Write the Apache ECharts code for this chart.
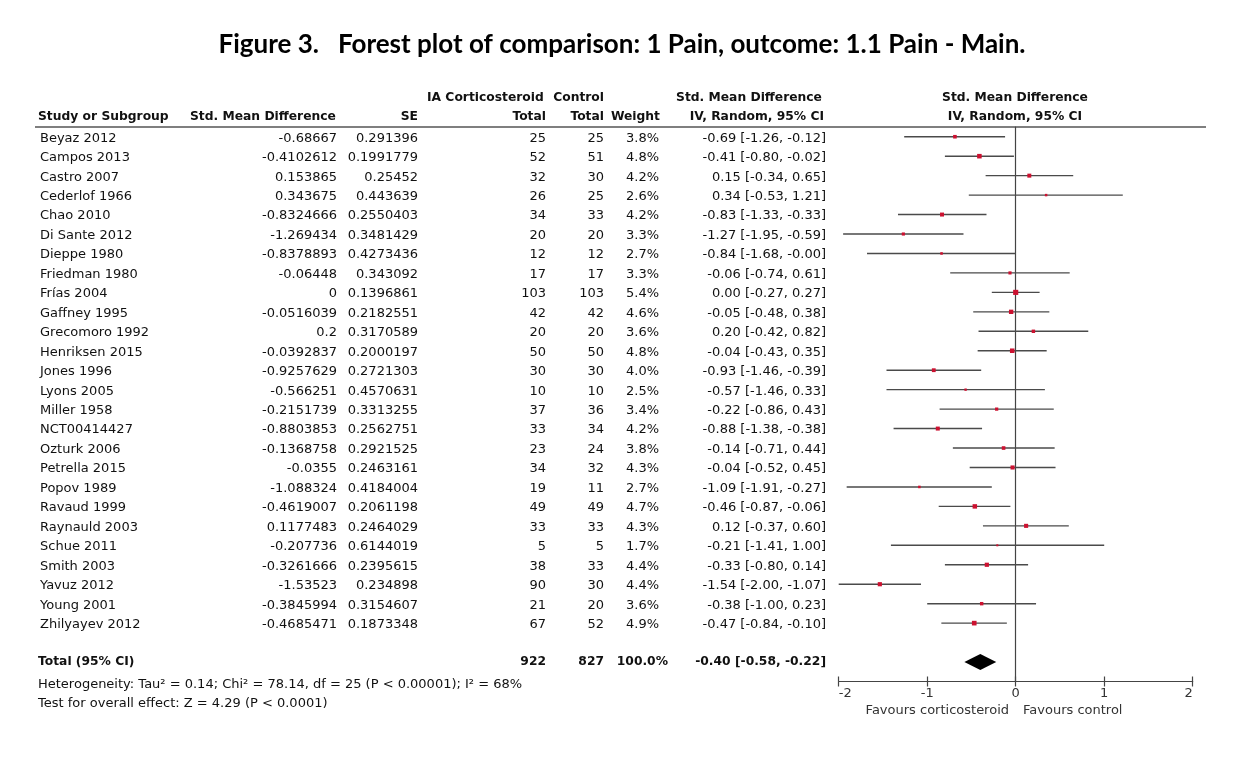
<!DOCTYPE html>
<html><head><meta charset="utf-8">
<script src="https://cdn.jsdelivr.net/npm/echarts@6/dist/echarts.min.js"></script>
<style>html,body{margin:0;padding:0;background:#fff;}#chart{width:1238px;height:758px;}</style>
</head><body><div id="chart"></div>
<script>
// ---------------- data ----------------
const studies = ["Beyaz 2012","Campos 2013","Castro 2007","Cederlof 1966","Chao 2010","Di Sante 2012","Dieppe 1980","Friedman 1980","Frías 2004","Gaffney 1995","Grecomoro 1992","Henriksen 2015","Jones 1996","Lyons 2005","Miller 1958","NCT00414427","Ozturk 2006","Petrella 2015","Popov 1989","Ravaud 1999","Raynauld 2003","Schue 2011","Smith 2003","Yavuz 2012","Young 2001","Zhilyayev 2012"];
const smd = [-0.68667,-0.4102612,0.153865,0.343675,-0.8324666,-1.269434,-0.8378893,-0.06448,0,-0.0516039,0.2,-0.0392837,-0.9257629,-0.566251,-0.2151739,-0.8803853,-0.1368758,-0.0355,-1.088324,-0.4619007,0.1177483,-0.207736,-0.3261666,-1.53523,-0.3845994,-0.4685471];
const se = [0.291396,0.1991779,0.25452,0.443639,0.2550403,0.3481429,0.4273436,0.343092,0.1396861,0.2182551,0.3170589,0.2000197,0.2721303,0.4570631,0.3313255,0.2562751,0.2921525,0.2463161,0.4184004,0.2061198,0.2464029,0.6144019,0.2395615,0.234898,0.3154607,0.1873348];
const nTreat = [25,52,32,26,34,20,12,17,103,42,20,50,30,10,37,33,23,34,19,49,33,5,38,90,21,67];
const nControl = [25,51,30,25,33,20,12,17,103,42,20,50,30,10,36,34,24,32,11,49,33,5,33,30,20,52];
const weights = [3.8,4.8,4.2,2.6,4.2,3.3,2.7,3.3,5.4,4.6,3.6,4.8,4.0,2.5,3.4,4.2,3.8,4.3,2.7,4.7,4.3,1.7,4.4,4.4,3.6,4.9];
const ciLow = [-1.26,-0.80,-0.34,-0.53,-1.33,-1.95,-1.68,-0.74,-0.27,-0.48,-0.42,-0.43,-1.46,-1.46,-0.86,-1.38,-0.71,-0.52,-1.91,-0.87,-0.37,-1.41,-0.80,-2.00,-1.00,-0.84];
const ciHigh = [-0.12,-0.02,0.65,1.21,-0.33,-0.59,-0.0003,0.61,0.27,0.38,0.82,0.35,-0.39,0.33,0.43,-0.38,0.44,0.45,-0.27,-0.06,0.60,1.00,0.14,-1.07,0.23,-0.10];
const totalTreat = 922;
const totalControl = 827;
const totalWeight = 100.0;
const pooledEst = -0.40;
const pooledLow = -0.58;
const pooledHigh = -0.22;
const xTicks = [-2, -1, 0, 1, 2];
const heterogeneityText = "Heterogeneity: Tau² = 0.14; Chi² = 78.14, df = 25 (P < 0.00001); I² = 68%";
const overallText = "Test for overall effect: Z = 4.29 (P < 0.0001)";
const titleText = "Figure 3.   Forest plot of comparison: 1 Pain, outcome: 1.1 Pain - Main.";

// ---------------- layout ----------------
const FONT = '"DejaVu Sans", Verdana, sans-serif';
const F = '13px ' + FONT;
const FB = 'bold 12.3px ' + FONT;
const TXT = '#111';
const COL = { name: 40, smd: 337, se: 418, n1: 546, n2: 604, w: 659, ci: 826 };
const TOTAL_ROW = 27;
const TEXT_DY = 1.5;
const fmt2 = v => v.toFixed(2);
const ciText = (e, l, h) => fmt2(e) + ' [' + fmt2(l) + ', ' + fmt2(h) + ']';

const chart = echarts.init(document.getElementById('chart'), null, { renderer: 'canvas' });

function txt(x, y, text, align, font, color) {
  return { type: 'text', style: { x: x, y: y, text: text, textAlign: align, textVerticalAlign: 'middle', font: font || F, fill: color || TXT } };
}

const rowData = studies.map((s, i) => [0, i]);

const option = {
  animation: false,
  backgroundColor: '#fff',
  grid: { left: 838.7, width: 354, top: 127, height: 554.5 },
  xAxis: [{
    type: 'value', min: -2, max: 2, interval: 1, position: 'bottom',
    axisLine: { show: true, onZero: false, lineStyle: { color: '#444', width: 1.2 } },
    axisTick: { show: true, inside: true, length: 5, lineStyle: { color: '#444', width: 1.2 } },
    axisLabel: { show: true, margin: 6, color: '#333', fontSize: 13, fontFamily: FONT, alignMinLabel: 'left', alignMaxLabel: 'right', formatter: v => String(v) },
    splitLine: { show: false }
  }, {
    type: 'value', min: -2, max: 2, interval: 1, position: 'bottom', offset: 0,
    axisLine: { show: false, onZero: false },
    axisTick: { show: true, inside: false, length: 5, lineStyle: { color: '#444', width: 1.2 } },
    axisLabel: { show: false }, splitLine: { show: false }
  }],
  yAxis: {
    type: 'value', inverse: true, min: -0.5, max: 28,
    axisLine: { show: true, onZero: true, lineStyle: { color: '#444', width: 1.2 } },
    axisTick: { show: false }, axisLabel: { show: false }, splitLine: { show: false }
  },
  series: [
    { // CI whiskers
      type: 'custom', xAxisIndex: 0, yAxisIndex: 0, clip: false,
      data: studies.map((s, i) => [ciLow[i], ciHigh[i], i]),
      encode: { x: [0, 1], y: 2 },
      renderItem: (params, api) => {
        const p1 = api.coord([api.value(0), api.value(2)]);
        const p2 = api.coord([api.value(1), api.value(2)]);
        return { type: 'line', shape: { x1: p1[0], y1: p1[1], x2: p2[0], y2: p2[1] }, style: { stroke: '#4a4a4a', lineWidth: 1.4 } };
      },
      z: 2
    },
    { // point estimates
      type: 'scatter', xAxisIndex: 0, yAxisIndex: 0, symbol: 'rect',
      data: smd.map((v, i) => ({ value: [v, i], symbolSize: Math.max(2, weights[i] * 0.95) })),
      itemStyle: { color: '#cc1130', opacity: 1 }, z: 3, silent: true
    },
    { // pooled diamond
      type: 'custom', xAxisIndex: 0, yAxisIndex: 0, clip: false,
      data: [[pooledLow, pooledEst, pooledHigh, TOTAL_ROW]],
      encode: { x: [0, 1, 2], y: 3 },
      renderItem: (params, api) => {
        const l = api.coord([api.value(0), api.value(3)]);
        const m = api.coord([api.value(1), api.value(3)]);
        const h = api.coord([api.value(2), api.value(3)]);
        return { type: 'polygon', shape: { points: [[l[0], l[1]], [m[0], m[1] - 8], [h[0], h[1]], [m[0], m[1] + 8]] }, style: { fill: '#000' } };
      },
      z: 3
    },
    { // table rows
      type: 'custom', xAxisIndex: 0, yAxisIndex: 0, clip: false,
      data: rowData, encode: { x: 0, y: 1 },
      renderItem: (params, api) => {
        const i = params.dataIndex;
        const y = api.coord([0, api.value(1)])[1] + TEXT_DY;
        return { type: 'group', children: [
          txt(COL.name, y, studies[i], 'left'),
          txt(COL.smd, y, String(smd[i]), 'right'),
          txt(COL.se, y, String(se[i]), 'right'),
          txt(COL.n1, y, String(nTreat[i]), 'right'),
          txt(COL.n2, y, String(nControl[i]), 'right'),
          txt(COL.w, y, weights[i].toFixed(1) + '%', 'right'),
          txt(COL.ci, y, ciText(smd[i], ciLow[i], ciHigh[i]), 'right')
        ] };
      }
    },
    { // total row
      type: 'custom', xAxisIndex: 0, yAxisIndex: 0, clip: false,
      data: [[0, TOTAL_ROW]], encode: { x: 0, y: 1 },
      renderItem: (params, api) => {
        const y = api.coord([0, api.value(1)])[1];
        return { type: 'group', children: [
          txt(38, y, 'Total (95% CI)', 'left', FB),
          txt(COL.n1, y, String(totalTreat), 'right', FB),
          txt(COL.n2, y, String(totalControl), 'right', FB),
          txt(668, y, totalWeight.toFixed(1) + '%', 'right', FB),
          txt(COL.ci, y, ciText(pooledEst, pooledLow, pooledHigh), 'right', FB)
        ] };
      }
    }
  ],
  graphic: [
    txt(622, 45, titleText, 'center', 'bold 26px Lato, "Open Sans", sans-serif', '#000'),
    { type: 'line', shape: { x1: 35, y1: 127, x2: 1206, y2: 127 }, style: { stroke: '#555', lineWidth: 1.5 } },
    txt(427, 98, 'IA Corticosteroid', 'left', FB),
    txt(COL.n2, 98, 'Control', 'right', FB),
    txt(749, 98, 'Std. Mean Difference', 'center', FB),
    txt(1015, 98, 'Std. Mean Difference', 'center', FB),
    txt(38, 117, 'Study or Subgroup', 'left', FB),
    txt(190, 117, 'Std. Mean Difference', 'left', FB),
    txt(COL.se, 117, 'SE', 'right', FB),
    txt(COL.n1, 117, 'Total', 'right', FB),
    txt(COL.n2, 117, 'Total', 'right', FB),
    txt(COL.w + 1, 117, 'Weight', 'right', FB),
    txt(COL.ci - 2, 117, 'IV, Random, 95% CI', 'right', FB),
    txt(1015, 117, 'IV, Random, 95% CI', 'center', FB),
    txt(38, 685, heterogeneityText, 'left'),
    txt(38, 704, overallText, 'left'),
    txt(1009, 711, 'Favours corticosteroid', 'right', F, '#333'),
    txt(1023, 711, 'Favours control', 'left', F, '#333')
  ]
};
chart.setOption(option);
</script></body></html>
